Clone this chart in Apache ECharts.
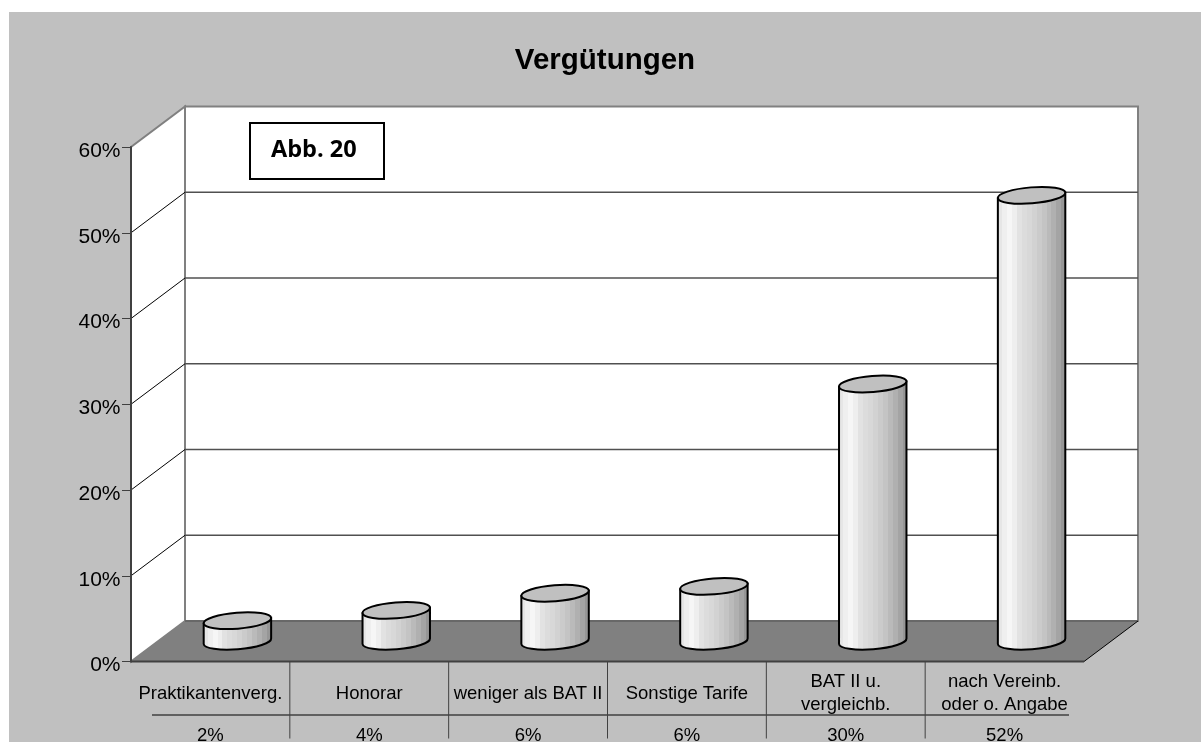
<!DOCTYPE html>
<html>
<head>
<meta charset="utf-8">
<title>Vergütungen</title>
<style>
html, body { margin: 0; padding: 0; background: #ffffff; overflow: hidden; }
#bg { position: absolute; left: 9px; top: 12px; width: 1192px; height: 730px; background: #c0c0c0; }
#main { position: absolute; left: 0; top: 0; width: 1201px; height: 742px; }
</style>
<script src="https://cdn.jsdelivr.net/npm/echarts@6/dist/echarts.min.js"></script>
</head>
<body>
<div id="bg"></div>
<div id="main"></div>
<script>
var categories = ['Praktikantenverg.', 'Honorar', 'weniger als BAT II', 'Sonstige Tarife', 'BAT II u.\nvergleichb.', 'nach Vereinb.\noder o. Angabe'];
var tableLabels = ['2%', '4%', '6%', '6%', '30%', '52%'];
// bar heights as drawn, they differ a bit from the rounded table row
var values = [2.4, 3.6, 5.6, 6.4, 30, 52];
var yTicks = [0, 10, 20, 30, 40, 50, 60];

var font = '"Liberation Sans", Arial, sans-serif';
var depthX = 54;
var depthY = 40.5;
var tilt = 4.6;
var shades = ['#e6e6e6', '#efefef', '#f6f6f6', '#eeeeee', '#e2e2e2', '#dcdcdc', '#d8d8d8', '#d2d2d2', '#cbcbcb', '#c4c4c4', '#bababa', '#b0b0b0', '#a4a4a4', '#969696'];

function bandGradient() {
    var stops = [];
    for (var i = 0; i < shades.length; i++) {
        stops.push({offset: i / shades.length, color: shades[i]});
        stops.push({offset: (i + 1) / shades.length, color: shades[i]});
    }
    return new echarts.graphic.LinearGradient(0, 0, 1, 0, stops);
}

function renderWalls(params, api) {
    var band = api.size([1, 0])[0];
    var x0 = api.coord([0, 0])[0] - band / 2;
    var x1 = x0 + band * categories.length;
    var y0 = api.coord([0, 0])[1];
    var yTop = api.coord([0, 60])[1];
    var kids = [];
    function line(ax, ay, bx, by, color, width) {
        kids.push({type: 'line', shape: {x1: ax, y1: ay, x2: bx, y2: by}, style: {stroke: color, lineWidth: width}});
    }
    // back wall, side wall, floor
    kids.push({type: 'polygon', shape: {points: [[x0 + depthX, y0 - depthY], [x1 + depthX, y0 - depthY], [x1 + depthX, yTop - depthY], [x0 + depthX, yTop - depthY]]}, style: {fill: '#ffffff', stroke: '#808080', lineWidth: 2}});
    kids.push({type: 'polygon', shape: {points: [[x0, y0], [x0, yTop], [x0 + depthX, yTop - depthY], [x0 + depthX, y0 - depthY]]}, style: {fill: '#ffffff', stroke: '#808080', lineWidth: 2}});
    for (var i = 1; i < yTicks.length - 1; i++) {
        var y = api.coord([0, yTicks[i]])[1];
        line(x0, y, x0 + depthX, y - depthY, '#000000', 1);
        line(x0 + depthX, y - depthY, x1 + depthX, y - depthY, '#505050', 1.5);
    }
    kids.push({type: 'polygon', shape: {points: [[x0, y0], [x0 + depthX, y0 - depthY], [x1 + depthX, y0 - depthY], [x1, y0]]}, style: {fill: '#808080'}});
    line(x0 + depthX, y0 - depthY, x1 + depthX, y0 - depthY, '#606060', 1.5);
    line(x1, y0, x1 + depthX, y0 - depthY, '#000000', 1);
    line(x0, y0, x1, y0, '#404040', 2);
    // data table rules
    for (var k = 1; k < categories.length; k++) {
        line(x0 + band * k, y0, x0 + band * k, y0 + 77, '#404040', 1);
    }
    line(x0 + 21, y0 + 53.5, x1 - 15, y0 + 53.5, '#404040', 1.5);
    return {type: 'group', children: kids};
}

function renderCylinder(params, api) {
    var i = api.value(0);
    var base = api.coord([i, 0]);
    var top = api.coord([i, api.value(1)]);
    var a = api.size([1, 0])[0] * 0.213;
    var b = 8;
    var cx = base[0] + depthX / 2;
    var by = base[1] - depthY / 2;
    var ty = top[1] - depthY / 2;
    var hw = a * Math.cos(tilt * Math.PI / 180);
    var hh = a * Math.sin(tilt * Math.PI / 180);
    var arc = 'A' + a + ' ' + b + ' ' + (-tilt) + ' 0 0 ';
    var body = 'M' + (cx - hw) + ' ' + (ty + hh) + 'L' + (cx - hw) + ' ' + (by + hh) + arc + (cx + hw) + ' ' + (by - hh) + 'L' + (cx + hw) + ' ' + (ty - hh) + 'Z';
    var cap = 'M' + (cx - hw) + ' ' + (ty + hh) + arc + (cx + hw) + ' ' + (ty - hh) + arc + (cx - hw) + ' ' + (ty + hh) + 'Z';
    return {
        type: 'group',
        children: [
            {type: 'path', shape: {pathData: body}, style: {fill: bandGradient(), stroke: '#000000', lineWidth: 2}},
            {type: 'path', shape: {pathData: cap}, style: {fill: '#c0c0c0', stroke: '#000000', lineWidth: 2}}
        ]
    };
}

var seriesData = [];
for (var n = 0; n < values.length; n++) {
    seriesData.push([n, values[n]]);
}

var myChart = echarts.init(document.getElementById('main'));
myChart.setOption({
    backgroundColor: 'transparent',
    animation: false,
    title: {
        text: 'Vergütungen',
        left: 600,
        top: 41,
        textAlign: 'center',
        textStyle: {fontFamily: font, fontSize: 29.5, fontWeight: 'bold', color: '#000000'}
    },
    grid: {left: 131, top: 147, width: 953, height: 514.5, outerBoundsMode: 'none'},
    xAxis: [
        {
            type: 'category',
            data: categories,
            position: 'bottom',
            axisLine: {show: false},
            axisTick: {show: false},
            axisLabel: {interval: 0, margin: 32, fontFamily: font, fontSize: 18.5, color: '#000000', lineHeight: 23, verticalAlign: 'middle', hideOverlap: false}
        },
        {
            type: 'category',
            data: tableLabels,
            position: 'bottom',
            axisLine: {show: false},
            axisTick: {show: false},
            axisLabel: {interval: 0, margin: 74, fontFamily: font, fontSize: 18.5, color: '#000000', verticalAlign: 'middle'}
        }
    ],
    yAxis: {
        type: 'value',
        min: 0,
        max: 60,
        interval: 10,
        z: 5,
        axisLine: {show: true, lineStyle: {color: '#404040', width: 2}},
        axisTick: {show: true, length: 9, lineStyle: {color: '#404040', width: 1}},
        axisLabel: {formatter: '{value}%', margin: 10.5, fontFamily: font, fontSize: 21, color: '#000000', verticalAlign: 'top', lineHeight: 8},
        splitLine: {show: false}
    },
    series: [
        {type: 'custom', name: 'walls', data: [[0, 0]], z: 1, silent: true, renderItem: renderWalls},
        {type: 'custom', name: 'Vergütungen', data: seriesData, z: 2, silent: true, renderItem: renderCylinder}
    ],
    graphic: [
        {type: 'rect', left: 249, top: 122, z: 10, shape: {width: 134, height: 56}, style: {fill: '#ffffff', stroke: '#000000', lineWidth: 2}},
        {type: 'text', left: 271, top: 138, z: 11, style: {text: 'Abb. 20', fontFamily: '"Open Sans", sans-serif', fontSize: 23.5, fontWeight: 'bold', fill: '#000000'}}
    ]
});
</script>
</body>
</html>
